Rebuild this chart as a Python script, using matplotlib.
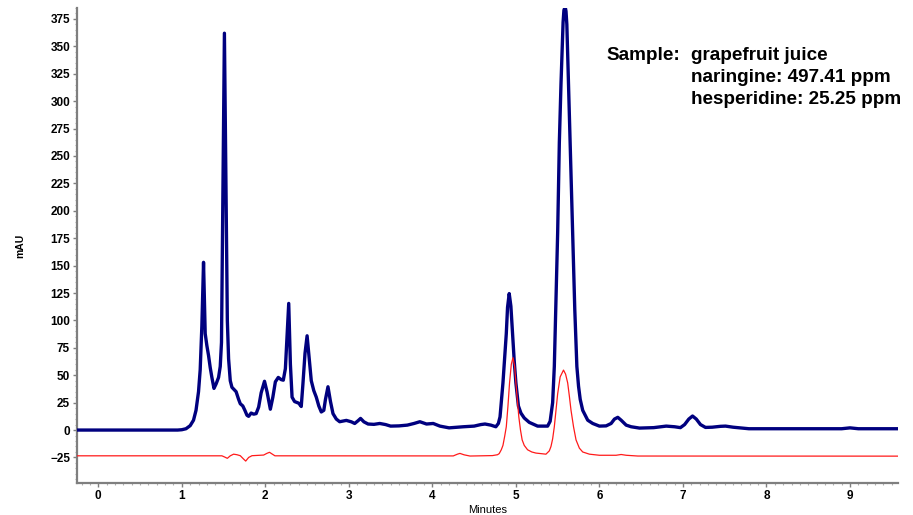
import matplotlib
matplotlib.use("Agg")
import matplotlib.pyplot as plt
from matplotlib.ticker import MultipleLocator

# ---- data (time in minutes, signal in mAU) ----
blue_t = [-0.255, 0.95, 1.00, 1.05, 1.10, 1.14, 1.17, 1.20, 1.22, 1.24, 1.26, 1.28, 1.30, 1.32,
          1.34, 1.36, 1.385, 1.41, 1.44, 1.46, 1.475, 1.49, 1.51, 1.53, 1.545, 1.56, 1.58, 1.60,
          1.625, 1.65, 1.68, 1.70, 1.73, 1.755, 1.78, 1.80, 1.83, 1.86, 1.89, 1.92, 1.95, 1.99,
          2.02, 2.06, 2.09, 2.12, 2.155, 2.19, 2.215, 2.24, 2.26, 2.28, 2.30, 2.32, 2.35, 2.40,
          2.43, 2.45, 2.475, 2.50, 2.52, 2.55, 2.58, 2.61, 2.64, 2.67, 2.70, 2.72, 2.75, 2.78,
          2.81, 2.85, 2.89, 2.97, 3.03, 3.07, 3.11, 3.14, 3.18, 3.23, 3.30, 3.37, 3.44, 3.50,
          3.60, 3.70, 3.78, 3.85, 3.93, 4.01, 4.09, 4.20, 4.37, 4.50, 4.58, 4.63, 4.70, 4.76,
          4.79, 4.81, 4.845, 4.865, 4.885, 4.90, 4.92, 4.94, 4.96, 4.98, 5.00, 5.03, 5.06, 5.10,
          5.16, 5.26, 5.38, 5.41, 5.44, 5.46, 5.48, 5.50, 5.52, 5.54, 5.565, 5.575, 5.59, 5.60,
          5.61, 5.63, 5.655, 5.68, 5.705, 5.73, 5.75, 5.77, 5.80, 5.86, 5.92,
          6.00, 6.08, 6.14, 6.18, 6.22, 6.26, 6.32, 6.38, 6.48, 6.65, 6.80, 6.90, 6.97, 7.02,
          7.07, 7.115, 7.16, 7.21, 7.27, 7.35, 7.45, 7.51, 7.60, 7.79, 8.90, 9.00, 9.10, 9.575]
blue_v = [0, 0, 0.3, 1.2, 4, 9, 18, 35, 55, 95, 153, 88, 77, 68,
          57, 48, 38, 42, 48, 58, 80, 200, 362, 215, 100, 65, 45, 39,
          37, 35, 28, 24, 22, 18, 13.5, 12.5, 15.5, 14.5, 15, 21, 34, 44.5,
          35, 19, 30, 44, 48, 46, 45.5, 56, 85, 115.5, 60, 30, 26, 24.5,
          21.5, 42, 70, 86, 70, 45, 36, 30, 22, 16.5, 18, 28, 39.5, 26,
          15, 10, 7.6, 8.8, 7.5, 6, 8.5, 10.6, 7.5, 5.5, 5.2, 6, 5, 3.6,
          3.8, 4.5, 6, 7.6, 5.5, 6, 3.6, 2, 3, 3.6, 5, 5.5, 4.5, 3,
          6, 12, 43, 65, 88, 112, 124.5, 113, 88, 63, 43, 22, 15.5, 11,
          7, 3.6, 3.6, 8, 25, 58, 120, 180, 262, 316, 372, 383, 386, 382,
          370, 316, 250, 180, 110, 58, 40, 28, 18, 9, 6,
          3.6, 3.8, 6, 10, 11.6, 9, 4.5, 3, 1.8, 2.2, 3.6, 3, 2.2, 5,
          10, 12.8, 10, 5, 2.4, 2.6, 3.4, 3.6, 2.6, 1.2, 1.2, 2, 1.2, 1.2]

red_t = [-0.255, 1.48, 1.51, 1.545, 1.58, 1.62, 1.66, 1.70, 1.74, 1.765, 1.80, 1.84, 1.98, 2.02,
         2.05, 2.08, 2.115, 4.25, 4.30, 4.33, 4.38, 4.45, 4.72, 4.78, 4.80, 4.825, 4.845, 4.865,
         4.885, 4.905, 4.924, 4.945, 4.965, 4.985, 5.00, 5.02, 5.035, 5.055, 5.075, 5.10, 5.14,
         5.19, 5.24, 5.36, 5.40, 5.42, 5.44, 5.46, 5.48, 5.50, 5.53, 5.57, 5.595, 5.62, 5.64,
         5.66, 5.69, 5.72, 5.76, 5.80, 5.88, 6.00, 6.20, 6.26, 6.32, 6.46, 9.575]
red_v = [-23.5, -23.5, -24.5, -25.8, -23.5, -22, -22.5, -23.4, -26.5, -28.3, -25, -23.4, -22.8, -21.2,
         -20.3, -21.8, -23.5, -23.6, -22, -21.3, -22.6, -23.7, -23.3, -22.5, -21.5, -18, -14, -6,
         3, 22, 43, 60, 66, 58, 43, 25, 12, 0, -9, -14, -18,
         -20, -21, -22, -19, -15, -8, 3, 18, 33, 48.5, 54.7, 51, 43, 31,
         18, 3, -9, -16.5, -20, -22, -23, -23, -22.3, -23, -23.7, -23.8]

x_ticks = [0, 1, 2, 3, 4, 5, 6, 7, 8, 9]
y_ticks = [-25, 0, 25, 50, 75, 100, 125, 150, 175, 200, 225, 250, 275, 300, 325, 350, 375]
annotation_lines = ["grapefruit juice", "naringine: 497.41 ppm", "hesperidine: 25.25 ppm"]

plt.rcParams['font.family'] = ['Liberation Sans', 'DejaVu Sans']

fig = plt.figure(figsize=(9.13, 5.15), dpi=100)
ax = fig.add_axes([77 / 913, 32 / 515, (898 - 77) / 913, (507 - 32) / 515])

ax.plot(blue_t, blue_v, color='#00007f', lw=2.4, solid_joinstyle='round', zorder=3)
ax.plot(red_t, red_v, color='#ff1a1a', lw=0.9, solid_joinstyle='round', zorder=4)

ax.set_xlim(-0.255, 9.575)
ax.set_ylim(-48.3, 385)
ax.set_xticks(x_ticks)
ax.set_yticks(y_ticks)
ax.xaxis.set_minor_locator(MultipleLocator(0.1))
ax.yaxis.set_minor_locator(MultipleLocator(5))

for s in ['top', 'right']:
    ax.spines[s].set_visible(False)
for s in ['left', 'bottom']:
    ax.spines[s].set_color('#7f7f7f')
    ax.spines[s].set_linewidth(1.6)

ax.tick_params(axis='both', which='major', length=3, width=1, color='#7f7f7f',
               labelsize=8.5, pad=2)
ax.tick_params(axis='both', which='minor', length=1.5, width=0.8, color='#b0b0b0')
for lab in ax.get_xticklabels() + ax.get_yticklabels():
    lab.set_fontweight('bold')

ax.set_xlabel('Minutes', fontsize=8, labelpad=2)
ax.set_ylabel('mAU', fontsize=7.5, fontweight='bold', labelpad=18)

fig.text(606 / 913, 1 - 55 / 515, 'Sample:', fontsize=13.6, fontweight='bold',
         ha='left', va='center')
for i, line in enumerate(annotation_lines):
    fig.text(691 / 913, 1 - (55 + 22 * i) / 515, line, fontsize=13.6, fontweight='bold',
             ha='left', va='center')

fig.savefig('out.png', dpi=100)
